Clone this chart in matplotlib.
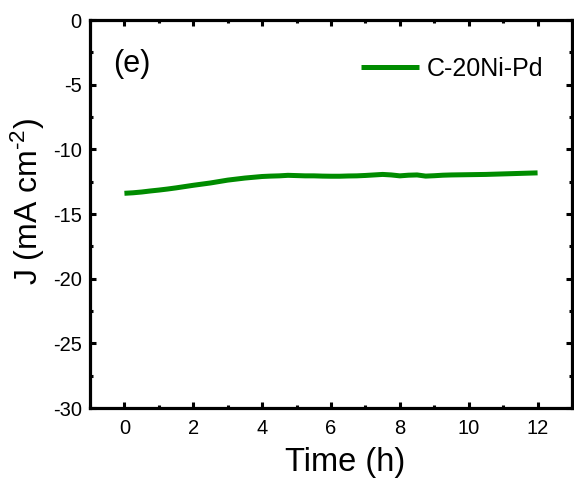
import matplotlib
matplotlib.use("Agg")
import matplotlib.pyplot as plt
from matplotlib.ticker import MultipleLocator

plt.rcParams['font.family'] = ['Liberation Sans', 'DejaVu Sans']
plt.rcParams['axes.unicode_minus'] = False
plt.rcParams['mathtext.fontset'] = 'custom'
plt.rcParams['mathtext.rm'] = 'Liberation Sans'
plt.rcParams['mathtext.it'] = 'Liberation Sans:italic'
plt.rcParams['mathtext.bf'] = 'Liberation Sans:bold'
plt.rcParams['mathtext.default'] = 'regular'

time_h = [0, 0.25, 0.5, 0.75, 1.0, 1.25, 1.5, 1.75, 2.0, 2.25, 2.5, 2.75, 3.0,
          3.25, 3.5, 3.75, 4.0, 4.25, 4.5, 4.75, 5.0, 5.25, 5.5, 5.75, 6.0,
          6.25, 6.5, 6.75, 7.0, 7.25, 7.5, 7.75, 8.0, 8.25, 8.5, 8.75, 9.0,
          9.25, 9.5, 9.75, 10.0, 10.25, 10.5, 10.75, 11.0, 11.25, 11.5, 11.75, 12.0]
current_j = [-13.40, -13.36, -13.30, -13.22, -13.15, -13.07, -12.98, -12.88, -12.78,
             -12.69, -12.60, -12.49, -12.38, -12.30, -12.22, -12.16, -12.10, -12.07,
             -12.05, -12.01, -12.03, -12.05, -12.05, -12.07, -12.08, -12.08, -12.06,
             -12.05, -12.02, -11.98, -11.94, -11.98, -12.05, -12.00, -11.98, -12.07,
             -12.04, -12.00, -11.98, -11.97, -11.96, -11.95, -11.94, -11.92, -11.90,
             -11.88, -11.86, -11.84, -11.82]
series_label = "C-20Ni-Pd"
panel_label = "(e)"

fig = plt.figure(figsize=(5.74, 4.8), dpi=100)
ax = fig.add_axes([90/574, 1-408/480, 482/574, 388/480])

ax.plot(time_h, current_j, color='#008c00', lw=3.6, label=series_label,
        solid_capstyle='butt')

ax.set_xlim(-1, 13)
ax.set_ylim(-30, 0)
ax.xaxis.set_major_locator(MultipleLocator(2))
ax.xaxis.set_minor_locator(MultipleLocator(1))
ax.yaxis.set_major_locator(MultipleLocator(5))
ax.yaxis.set_minor_locator(MultipleLocator(2.5))

for s in ax.spines.values():
    s.set_linewidth(2.3)
ax.tick_params(which='both', direction='in', top=True, right=True,
               labeltop=False, labelright=False, labelsize=14.5, width=2.2)
ax.tick_params(which='major', length=4.5)
ax.tick_params(which='minor', length=2.2)
ax.tick_params(axis='x', which='major', pad=8)
ax.tick_params(axis='y', which='major', pad=6)

ax.set_xlabel("Time (h)", fontsize=23.5)
ax.xaxis.set_label_coords((345-90)/482, -0.10)
ax.set_ylabel(r"J (mA cm$^{\text{-2}}$)", fontsize=23)
ax.yaxis.set_label_coords(-0.089, 0.531)

ax.text(0.087, 0.886, panel_label, transform=ax.transAxes, fontsize=22,
        ha='center', va='center')

ax.legend(loc='center left', bbox_to_anchor=((361-90)/482, 1-(69-20)/388),
          frameon=False, fontsize=18, handlelength=2.3, handletextpad=0.35,
          borderpad=0, borderaxespad=0)

fig.savefig("out.png", dpi=100)
